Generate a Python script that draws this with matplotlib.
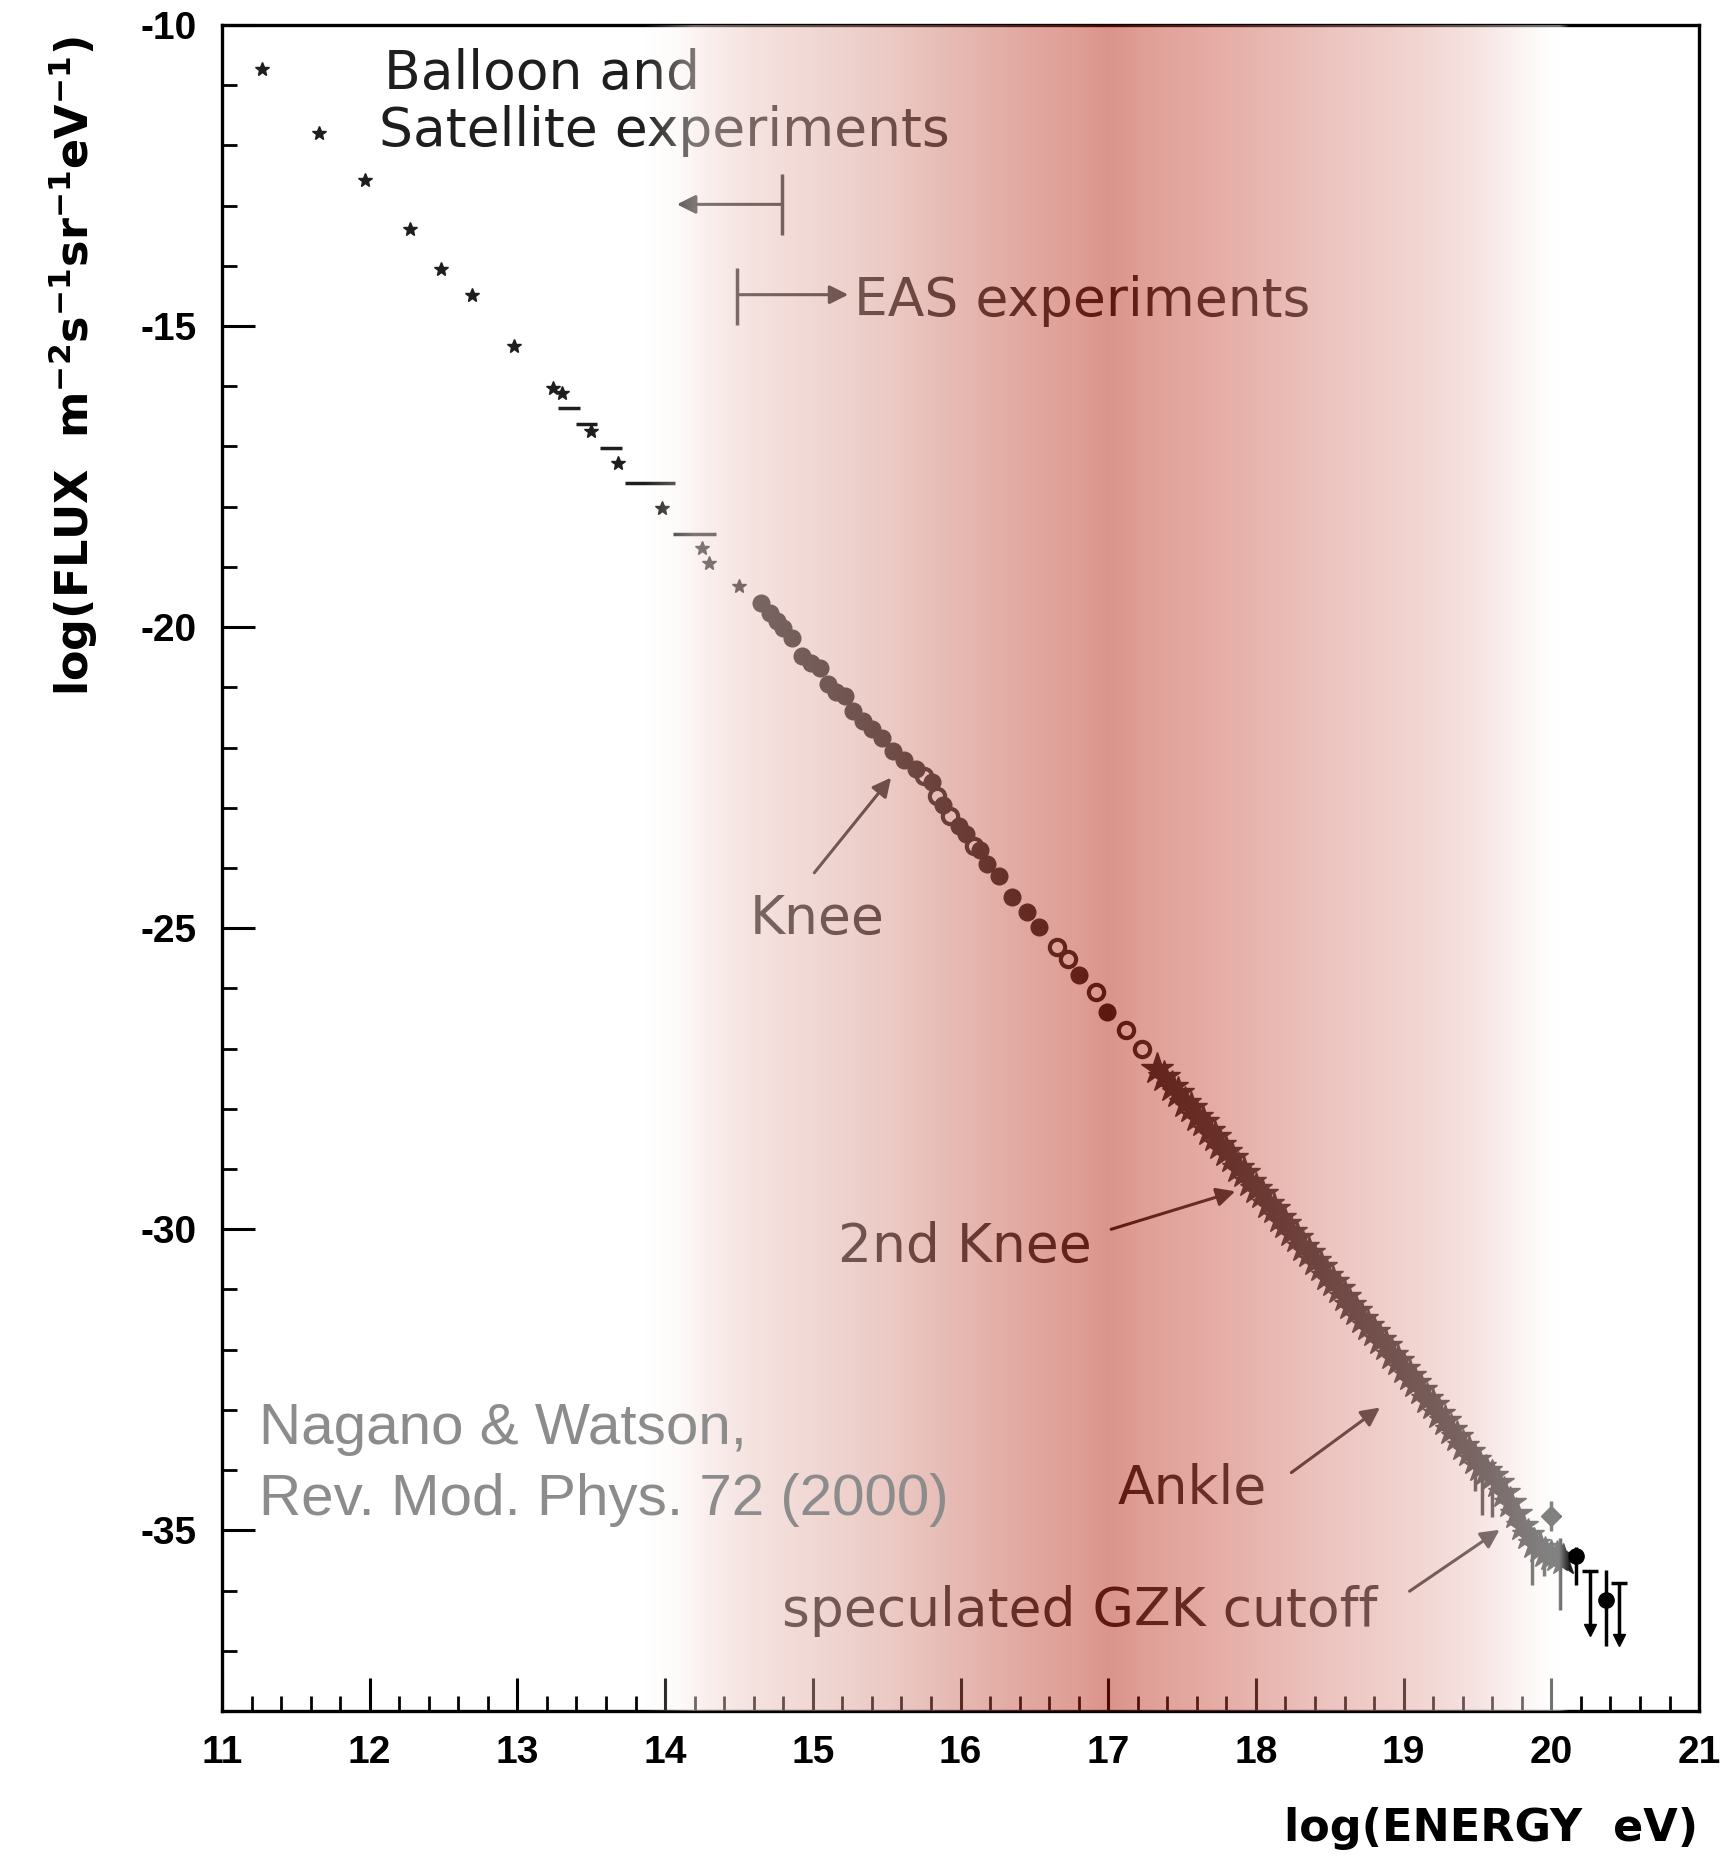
import numpy as np
import matplotlib
matplotlib.use("Agg")
import matplotlib.pyplot as plt

plt.rcParams['axes.unicode_minus'] = False
plt.rcParams['mathtext.fontset'] = 'custom'
plt.rcParams['mathtext.bf'] = 'DejaVu Sans:bold'
plt.rcParams['mathtext.rm'] = 'DejaVu Sans:bold'
plt.rcParams['mathtext.default'] = 'bf'

# ---- direct (balloon / satellite) measurements ----
direct_x = [11.27, 11.66, 11.97, 12.27, 12.48, 12.69, 12.98, 13.24, 13.30,
            13.50, 13.68, 13.98, 14.25, 14.30, 14.50]
direct_y = [-10.73, -11.80, -12.58, -13.39, -14.06, -14.48, -15.34, -16.03, -16.12,
            -16.75, -17.27, -18.02, -18.69, -18.94, -19.32]

# binned points drawn as horizontal bars
bin_x = [13.35, 13.47, 13.635, 13.90, 14.20]
bin_y = [-16.36, -16.62, -17.02, -17.60, -18.45]
bin_xerr = [0.075, 0.07, 0.075, 0.17, 0.145]

# ---- air shower (EAS) measurements ----
eas_x = [14.65, 14.71, 14.76, 14.80, 14.86, 14.93, 14.99, 15.05, 15.10, 15.16,
         15.22, 15.27, 15.34, 15.40, 15.47, 15.54, 15.62, 15.70, 15.81, 15.88,
         15.99, 16.04, 16.13, 16.18, 16.26, 16.35, 16.45, 16.53, 16.80, 16.99]
eas_y = [-19.60, -19.77, -19.90, -20.02, -20.18, -20.48, -20.60, -20.68, -20.95, -21.07,
         -21.15, -21.40, -21.56, -21.70, -21.85, -22.06, -22.20, -22.35, -22.58, -22.96,
         -23.30, -23.44, -23.70, -23.93, -24.14, -24.48, -24.73, -24.98, -25.77, -26.39]

open_x = [15.75, 15.84, 15.93, 16.09, 16.65, 16.73, 16.92, 17.12, 17.23]
open_y = [-22.48, -22.81, -23.14, -23.63, -25.31, -25.52, -26.06, -26.69, -27.00]

band_x = [17.33, 17.38, 17.43, 17.47, 17.52, 17.56, 17.60, 17.64, 17.68, 17.72,
          17.76, 17.80, 17.84, 17.88, 17.92, 17.96, 18.00, 18.04, 18.08, 18.12,
          18.16, 18.20, 18.24, 18.28, 18.32, 18.36, 18.40, 18.44, 18.48, 18.52,
          18.56, 18.60, 18.64, 18.68, 18.72, 18.76, 18.80, 18.84, 18.88, 18.92,
          18.96, 19.00, 19.04, 19.08, 19.12, 19.16, 19.20, 19.24, 19.28, 19.32,
          19.36, 19.40, 19.44, 19.48, 19.52, 19.56, 19.60, 19.64, 19.68, 19.72,
          19.76, 19.80, 19.84, 19.88, 19.92, 19.96, 20.00, 20.04, 20.08]
band_y = [-27.34, -27.47, -27.64, -27.73, -27.90, -27.99, -28.14, -28.22, -28.37, -28.47,
          -28.60, -28.72, -28.82, -28.98, -29.07, -29.21, -29.33, -29.42, -29.58, -29.66,
          -29.82, -29.91, -30.05, -30.14, -30.29, -30.40, -30.52, -30.63, -30.77, -30.88,
          -31.00, -31.12, -31.25, -31.35, -31.49, -31.60, -31.70, -31.84, -31.94, -32.08,
          -32.18, -32.32, -32.43, -32.56, -32.67, -32.82, -32.92, -33.06, -33.19, -33.33,
          -33.45, -33.60, -33.70, -33.83, -33.95, -34.02, -34.10, -34.22, -34.38, -34.55,
          -34.72, -34.92, -35.08, -35.22, -35.30, -35.38, -35.42, -35.45, -35.50]

# highest energy bins with error bars
tail_x = [19.48, 19.53, 19.60, 19.87, 19.95, 20.00, 20.06]
tail_y = [-33.85, -34.00, -34.12, -35.15, -35.35, -34.76, -35.42]
tail_lo = [0.50, 0.75, 0.65, 0.75, 0.40, 0.25, 0.90]
tail_hi = [0.15, 0.15, 0.15, 0.20, 0.15, 0.25, 0.30]

end_x = [20.17, 20.37]
end_y = [-35.43, -36.16]
end_lo = [0.47, 0.76]
end_hi = [0.16, 0.51]

# upper limits
ul_x = [20.26, 20.46]
ul_top = [-35.67, -35.87]
ul_bottom = [-36.65, -36.82]

# shaded energy band: background colour and opacity along log(E)
shade_x = [13.85, 14.10, 14.30, 14.60, 15.00, 15.50, 16.00, 16.50, 16.80, 16.92, 17.00,
           17.10, 17.25, 17.50, 18.00, 18.50, 19.00, 19.50, 19.80, 20.00, 20.12]
shade_r = [255, 254, 250, 245, 241, 236, 230, 225, 223, 220, 218, 220, 224, 227, 232, 237, 241, 246, 252, 255, 255]
shade_g = [255, 250, 238, 226, 216, 202, 184, 166, 157, 151, 147, 151, 159, 166, 180, 196, 210, 228, 245, 255, 255]
shade_b = [255, 249, 236, 223, 212, 197, 177, 158, 149, 142, 138, 142, 151, 158, 174, 192, 206, 226, 244, 255, 255]
alpha_x = [13.85, 14.20, 20.05, 20.12]
alpha_v = [0.0, 0.45, 0.45, 0.0]

fig = plt.figure(figsize=(17.26, 18.59), dpi=100)
ax = fig.add_axes([0.1286, 0.0796, 0.8558, 0.9070])

ink = '#1e1e1e'

ax.plot(direct_x, direct_y, ls='none', marker='*', ms=10, color=ink, zorder=4)
ax.errorbar(bin_x, bin_y, xerr=bin_xerr, fmt='none', ecolor=ink, elinewidth=2.5, capsize=0, zorder=4)
ax.plot(eas_x, eas_y, ls='none', marker='o', ms=12, color=ink, zorder=4)
ax.plot(open_x, open_y, ls='none', marker='o', ms=11, mfc='none', mec=ink, mew=3, zorder=4)
ax.plot(band_x, band_y, ls='none', marker='*', ms=24, color=ink, zorder=4)
ax.errorbar(tail_x, tail_y, yerr=[tail_lo, tail_hi], fmt='none', ecolor=ink, elinewidth=2.5,
            capsize=0, zorder=4)
ax.plot(tail_x[5], tail_y[5], marker='D', ms=10, color=ink, zorder=4)
ax.errorbar(end_x, end_y, yerr=[end_lo, end_hi], fmt='o', ms=11, color='black', elinewidth=2.5,
            capsize=0, zorder=4)
ax.vlines(ul_x, ul_bottom, ul_top, color='black', lw=2.5, zorder=4)
ax.plot(ul_x, ul_top, ls='none', marker='_', ms=12, mew=2.5, color='black', zorder=4)
ax.plot(ul_x, ul_bottom, ls='none', marker='v', ms=9, color='black', zorder=4)

# labels and arrows
txt = dict(family='DejaVu Sans', fontsize=38.5, color=ink, va='baseline', ha='left', zorder=5)
arrow = dict(arrowstyle='-|>', lw=2.2, color=ink, mutation_scale=28, shrinkA=0, shrinkB=0)

ax.text(12.10, -11.06, 'Balloon and', **txt)
ax.text(12.06, -12.01, 'Satellite experiments', **txt)
ax.annotate('', xy=(14.08, -12.98), xytext=(14.79, -12.98), arrowprops=arrow, zorder=5)
ax.vlines(14.79, -13.49, -12.48, color=ink, lw=2.5, zorder=5)
ax.annotate('', xy=(15.24, -14.48), xytext=(14.49, -14.48), arrowprops=arrow, zorder=5)
ax.vlines(14.49, -14.98, -14.03, color=ink, lw=2.5, zorder=5)
ax.text(15.28, -14.83, 'EAS experiments', **txt)

ax.text(14.57, -25.09, 'Knee', **txt)
ax.annotate('', xy=(15.53, -22.50), xytext=(15.01, -24.08), arrowprops=arrow, zorder=5)
ax.text(15.17, -30.55, '2nd Knee', **txt)
ax.annotate('', xy=(17.86, -29.37), xytext=(17.02, -30.00), arrowprops=arrow, zorder=5)
ax.text(17.06, -34.56, 'Ankle', **txt)
ax.annotate('', xy=(18.84, -32.96), xytext=(18.24, -34.04), arrowprops=arrow, zorder=5)
ax.text(14.79, -36.59, 'speculated GZK cutoff', **txt)
ax.annotate('', xy=(19.65, -34.99), xytext=(19.04, -36.01), arrowprops=arrow, zorder=5)

# translucent tint laid over the plot
xs = np.linspace(11, 21, 1500)
bg = np.stack([np.interp(xs, shade_x, c) for c in (shade_r, shade_g, shade_b)], axis=-1) / 255.0
alpha = np.interp(xs, alpha_x, alpha_v)
safe = np.maximum(alpha, 1e-6)[:, None]
col = np.where(alpha[:, None] > 0, (bg - (1 - alpha[:, None])) / safe, 1.0)
col = np.clip(col, 0, 1)
rgba = np.concatenate([col, alpha[:, None]], axis=-1)[None, :, :]
ax.imshow(rgba, extent=(11, 21, -38, -10), aspect='auto', interpolation='bilinear', zorder=10)

ax.text(11.25, -33.56, 'Nagano & Watson,', family='Liberation Sans', fontsize=42,
        color='#8c8c8c', va='baseline', ha='left', zorder=20)
ax.text(11.25, -34.74, 'Rev. Mod. Phys. 72 (2000)', family='Liberation Sans', fontsize=42,
        color='#8c8c8c', va='baseline', ha='left', zorder=20)

# axes styling
ax.set_xlim(11, 21)
ax.set_ylim(-38, -10)
ax.set_xticks(np.arange(11, 22, 1))
ax.set_xticks(np.arange(11, 21.01, 0.2), minor=True)
ax.set_yticks([-35, -30, -25, -20, -15, -10])
ax.set_yticks(np.arange(-38, -9.5, 1), minor=True)
for s in ax.spines.values():
    s.set_linewidth(2.4)
ax.tick_params(which='major', direction='in', length=24, width=2.2, top=False, right=False)
ax.tick_params(which='minor', direction='in', length=11, width=2.0, top=False, right=False)
ax.tick_params(axis='x', pad=17)
ax.tick_params(axis='y', pad=18)
for lab in ax.get_xticklabels() + ax.get_yticklabels():
    lab.set_family('Liberation Sans')
    lab.set_fontweight('bold')
    lab.set_fontsize(28)

fig.text(0.0423, 0.803, r'log(FLUX  m$^{-2}$s$^{-1}$sr$^{-1}$eV$^{-1}$)', rotation=90,
         ha='center', va='center', family='DejaVu Sans', fontweight='bold', fontsize=32)
fig.text(0.9838, 0.0165, 'log(ENERGY  eV)', ha='right', va='center',
         family='DejaVu Sans', fontweight='bold', fontsize=32)

fig.savefig('out.png', dpi=100, facecolor='white')
